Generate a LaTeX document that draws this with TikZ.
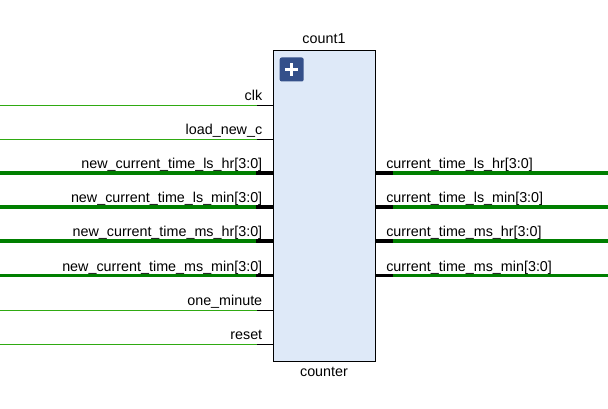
\documentclass[tikz,border=0pt]{standalone}
\usepackage{fontspec}
\setmainfont{Liberation Sans}
\definecolor{blockfill}{HTML}{DEE9F8}
\definecolor{thinwire}{HTML}{2FAA12}
\definecolor{buswire}{HTML}{007F00}
\definecolor{btn}{HTML}{34508A}
\tikzset{
  block/.style={draw=black,fill=blockfill,line width=0.75pt,minimum width=76.5pt,minimum height=233.25pt,inner sep=0pt,outer sep=0pt},
  lbl/.style={font=\fontsize{10.75pt}{12pt}\selectfont,text=black,inner sep=0pt,text height=8pt,text depth=2pt},
  inlbl/.style={lbl,anchor=base east},
  outlbl/.style={lbl,anchor=base west},
  thinw/.style={draw=thinwire,line width=0.75pt},
  thinb/.style={draw=black,line width=0.75pt},
  busw/.style={draw=buswire,line width=2.8pt},
  busb/.style={draw=black,line width=2.8pt},
}
\begin{document}
\begin{tikzpicture}[x=0.75pt,y=-0.75pt]
\useasboundingbox (0,0) rectangle (608,409);
\node[block] (blk) at (324.5,206) {};
\node[lbl,anchor=base] (title) at (324,43.7) {count1};
\node[lbl,anchor=base] (type) at (324,376.7) {counter};
\node[fill=btn,rounded corners=1.5pt,minimum size=18pt,inner sep=0pt] (plus) at (291.7,69.5) {};
\fill[white] (plus.center) ++(-6.5,-1.75) rectangle ++(13,3.5);
\fill[white] (plus.center) ++(-1.75,-6.5) rectangle ++(3.5,13);
% inputs
\foreach \nm/\yy/\txt in {a/105.5/clk,b/139.5/load\_new\_c,g/310.5/one\_minute,h/344.5/reset}{
  \coordinate (\nm0) at (0,\yy);
  \coordinate (\nm1) at (257,\yy);
  \coordinate (\nm2) at (273.5,\yy);
  \draw[thinw] (\nm0) -- (\nm1);
  \draw[thinb] (\nm1) -- (\nm2);
  \node[inlbl] (\nm l) at (262.5,\yy-5.3) {\txt};
}
\foreach \nm/\yy/\txt in {c/173/new\_current\_time\_ls\_hr[3:0],d/207/new\_current\_time\_ls\_min[3:0],e/241/new\_current\_time\_ms\_hr[3:0],f/275.5/new\_current\_time\_ms\_min[3:0]}{
  \coordinate (\nm0) at (0,\yy);
  \coordinate (\nm1) at (256,\yy);
  \coordinate (\nm2) at (273.5,\yy);
  \draw[busw] (\nm0) -- (\nm1);
  \draw[busb] (\nm1) -- (\nm2);
  \node[inlbl] (\nm l) at (262.5,\yy-4.3) {\txt};
}
% outputs
\foreach \nm/\yy/\txt in {p/173/current\_time\_ls\_hr[3:0],q/207/current\_time\_ls\_min[3:0],r/241/current\_time\_ms\_hr[3:0],s/275.5/current\_time\_ms\_min[3:0]}{
  \coordinate (\nm0) at (375.5,\yy);
  \coordinate (\nm1) at (393,\yy);
  \coordinate (\nm2) at (608,\yy);
  \draw[busb] (\nm0) -- (\nm1);
  \draw[busw] (\nm1) -- (\nm2);
  \node[outlbl] (\nm l) at (386,\yy-4.3) {\txt};
}
\end{tikzpicture}
\end{document}
